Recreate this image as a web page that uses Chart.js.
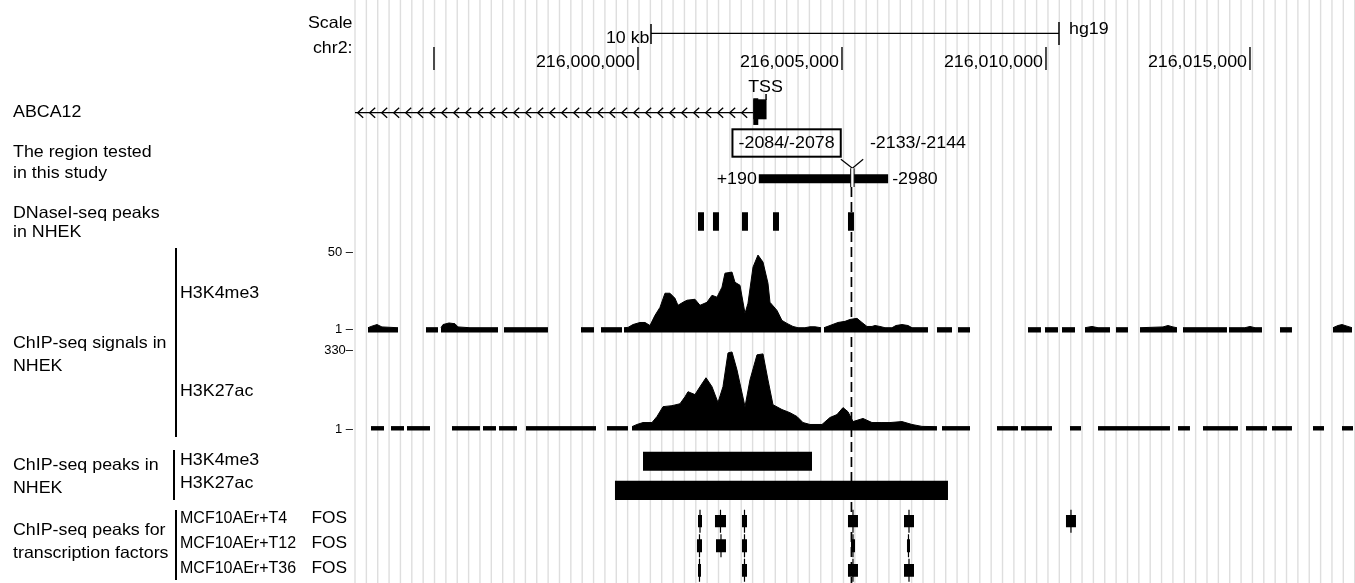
<!DOCTYPE html>
<html>
<head>
<meta charset="utf-8">
<script src="https://cdn.jsdelivr.net/npm/chart.js@4.4.1/dist/chart.umd.min.js"></script>
<style>
  html, body { margin: 0; padding: 0; background: #fff; }
  canvas { display: block; }
</style>
</head>
<body>
<canvas id="browser" width="1355" height="583"></canvas>
<script>
// all positions in kb relative to chr2:216,000,000 (hg19)
const CHR_ZERO = 216000000;
const viewStart = -6.936;
const viewEnd = 17.574;
const xTicks = [-5, 0, 5, 10, 15];
const scaleBarKb = 10;

const tss = 3.151;
const geneStart = -203.734;
const exon1 = [2.826, tss];
const exon1Cds = [2.826, 2.948];
const testedRegion = [tss - 0.190, tss + 2.980];
const siteBox = { label: '-2084/-2078', pos: tss + 2.081 };
const siteY = { label: '-2133/-2144', pos: tss + 2.1385 };

const dnasePeaks = [[1.471, 1.618], [1.838, 1.985], [2.549, 2.696], [3.309, 3.456], [5.147, 5.294]];
const k4Peaks = [[0.123, 4.265]];
const k27Peaks = [[-0.564, 7.598]];
const fosT4 = [[1.471, 1.569], [1.887, 2.157], [2.549, 2.672], [5.147, 5.392], [6.520, 6.765], [10.490, 10.735]];
const fosT12 = [[1.446, 1.569], [1.912, 2.157], [2.549, 2.672], [5.221, 5.319], [6.593, 6.667]];
const fosT36 = [[1.471, 1.544], [2.549, 2.672], [5.147, 5.392], [6.520, 6.765]];

// H3K4me3 signal, segments of [kb, value]
const k4Signal = [
  [[-6.618, 3], [-6.520, 4], [-6.397, 5], [-6.275, 3.5], [-5.882, 3]],
  [[-5.196, 3], [-4.902, 3]],
  [[-4.828, 3], [-4.779, 5], [-4.632, 6], [-4.485, 5.5], [-4.412, 3.5], [-4.118, 3], [-3.431, 3]],
  [[-3.284, 3], [-2.206, 3]],
  [[-1.397, 3], [-1.078, 3]],
  [[-0.907, 3], [-0.392, 3]],
  [[-0.343, 3], [-0.245, 3.2], [-0.123, 5], [0.049, 6.3], [0.172, 6.3], [0.294, 4.4], [0.417, 10.8],
   [0.539, 15.8], [0.662, 24.7], [0.784, 24.7], [0.907, 21.5], [0.980, 17.1], [1.103, 19], [1.201, 20.3],
   [1.397, 20.9], [1.520, 17.1], [1.691, 19], [1.814, 23.4], [1.936, 22.2], [2.059, 28.5], [2.132, 37.3],
   [2.304, 38], [2.377, 31.6], [2.500, 29.7], [2.623, 12], [2.696, 18.4], [2.819, 41.1], [2.941, 48.7],
   [3.064, 44.3], [3.186, 31], [3.235, 19], [3.407, 13.9], [3.529, 7.6], [3.652, 5.7], [3.799, 3.8],
   [3.922, 3], [4.093, 3], [4.216, 3.6], [4.338, 3.6], [4.485, 3]],
  [[4.559, 3], [4.706, 4.4], [4.902, 6.3], [5.074, 7], [5.196, 8.2], [5.368, 8.9], [5.490, 6.3],
   [5.613, 3.8], [5.735, 3.8], [5.809, 4.4], [5.931, 3.8], [6.054, 3], [6.225, 3], [6.324, 4.4],
   [6.471, 5], [6.618, 4.4], [6.716, 3], [7.108, 3]],
  [[7.328, 3], [7.696, 3]],
  [[7.843, 3], [8.137, 3]],
  [[9.559, 3], [9.877, 3]],
  [[9.975, 3], [10.294, 3]],
  [[10.392, 3], [10.711, 3]],
  [[10.956, 3], [11.127, 3.8], [11.275, 3], [11.569, 3]],
  [[11.716, 3], [12.010, 3]],
  [[12.304, 3], [12.868, 3.5], [12.990, 4.4], [13.113, 3.5], [13.211, 3]],
  [[13.358, 3], [14.436, 3]],
  [[14.485, 3], [14.877, 3], [15.000, 3.8], [15.123, 3], [15.294, 3]],
  [[15.735, 3], [16.029, 3]],
  [[17.034, 3], [17.157, 4.4], [17.255, 5], [17.377, 4], [17.500, 3]]
];

// H3K27ac signal, segments of [kb, value]
const k27Signal = [
  [[-6.544, 16], [-6.225, 16]],
  [[-6.054, 16], [-5.735, 16]],
  [[-5.662, 16], [-5.098, 16]],
  [[-4.559, 16], [-3.873, 16]],
  [[-3.799, 16], [-3.480, 16]],
  [[-3.407, 16], [-2.966, 16]],
  [[-2.745, 16], [-1.029, 16]],
  [[-0.760, 16], [-0.245, 16]],
  [[-0.147, 16], [-0.025, 25], [0.123, 33], [0.343, 33], [0.466, 58], [0.613, 99], [0.833, 103],
   [1.029, 111], [1.152, 140], [1.226, 161], [1.397, 149], [1.520, 182], [1.667, 219], [1.814, 182],
   [1.961, 116], [2.083, 182], [2.206, 322], [2.304, 326], [2.426, 252], [2.623, 99], [2.745, 210],
   [2.917, 314], [3.064, 318], [3.186, 210], [3.309, 107], [3.529, 87], [3.725, 74], [3.897, 58],
   [4.044, 33], [4.216, 25], [4.510, 25], [4.706, 54], [4.877, 66], [5.025, 95], [5.147, 78],
   [5.270, 37], [5.515, 50], [5.735, 33], [5.980, 33], [6.176, 33], [6.471, 37], [6.716, 25],
   [6.961, 17], [7.328, 16]],
  [[7.451, 16], [8.137, 16]],
  [[8.799, 16], [9.314, 16]],
  [[9.387, 16], [10.147, 16]],
  [[10.588, 16], [10.858, 16]],
  [[11.275, 16], [13.039, 16]],
  [[13.235, 16], [13.529, 16]],
  [[13.848, 16], [14.706, 16]],
  [[14.902, 16], [15.417, 16]],
  [[15.539, 16], [16.029, 16]],
  [[16.544, 16], [16.814, 16]],
  [[17.255, 16], [17.525, 16]]
];
const k4Ticks = [50, 1];
const k27Ticks = [330, 1];

const FONT = '"Liberation Sans", Arial, Helvetica, sans-serif';
const STRETCH = 1.08;

const leftLabels = [
  ['ABCA12', 13, 117.3],
  ['The region tested', 13, 156.7],
  ['in this study', 13, 178.3],
  ['DNaseI-seq peaks', 13, 218.3],
  ['in NHEK', 13, 236.7],
  ['ChIP-seq signals in', 13, 348],
  ['NHEK', 13, 371],
  ['H3K4me3', 180, 298],
  ['H3K27ac', 180, 396],
  ['ChIP-seq peaks in', 13, 470],
  ['NHEK', 13, 492.7],
  ['H3K4me3', 180, 465],
  ['H3K27ac', 180, 488.3],
  ['ChIP-seq peaks for', 13, 535],
  ['transcription factors', 13, 558.3]
];
const tfLabels = [['MCF10AEr+T4', 523.3], ['MCF10AEr+T12', 548.3], ['MCF10AEr+T36', 573.3]];
const tfFactor = 'FOS';
const brackets = [[176, 248, 437], [174, 450, 500], [176, 510, 580]];

// track layout (pixel rows)
const H = 583;
function trackScale(top, bottom, maxVal) {
  const ppu = (bottom - top) / maxVal;
  return { min: -(H - bottom) / ppu, max: bottom / ppu };
}
const k4Range = trackScale(253, 332.5, 50);
const k27Range = trackScale(351, 430.5, 330);

function bed(items, row) {
  return items.flatMap(([s, e]) => [{ x: s, y: row }, { x: e, y: row }, { x: e, y: null }]);
}
function whiskers(items, row, half) {
  return items.flatMap(([s, e]) => {
    const c = (s + e) / 2;
    return [{ x: c, y: row - half }, { x: c, y: row + half }, { x: c, y: null }];
  });
}
function signal(segs) {
  return segs.flatMap(seg => [...seg.map(([x, y]) => ({ x, y })), { x: seg[seg.length - 1][0], y: null }]);
}
function block(data, width, extra) {
  return Object.assign({ data, yAxisID: 'yRow', borderColor: '#000', borderWidth: width,
    pointRadius: 0, spanGaps: false, fill: false, borderCapStyle: 'butt' }, extra || {});
}

function text(ctx, str, x, y, align, size, stretch) {
  ctx.save();
  ctx.font = (size || 16.5) + 'px ' + FONT;
  ctx.fillStyle = '#000';
  ctx.textAlign = align || 'left';
  ctx.textBaseline = 'alphabetic';
  ctx.translate(x, y);
  ctx.scale(stretch || STRETCH, 1);
  ctx.fillText(str, 0, 0);
  ctx.restore();
}
function line(ctx, x1, y1, x2, y2, w) {
  ctx.beginPath();
  ctx.lineWidth = w || 1;
  ctx.moveTo(x1, y1);
  ctx.lineTo(x2, y2);
  ctx.stroke();
}

const browserDecor = {
  id: 'browserDecor',
  beforeDatasetsDraw(chart) {
    const { ctx, chartArea } = chart;
    ctx.save();
    ctx.strokeStyle = '#dedede';
    for (let k = 0; k <= 88; k++) {
      const x = chartArea.left + k * 11.36;
      line(ctx, x, 0, x, H, 1.4);
    }
    ctx.restore();
  },
  afterDatasetsDraw(chart) {
    const { ctx, chartArea } = chart;
    const xs = chart.scales.x;
    const px = v => xs.getPixelForValue(v);
    ctx.save();
    ctx.strokeStyle = '#000';

    // scale bar, centred in view
    const mid = (viewStart + viewEnd) / 2;
    const b0 = px(mid - scaleBarKb / 2), b1 = px(mid + scaleBarKb / 2);
    line(ctx, b0, 33.3, b1, 33.3, 1.3);
    line(ctx, b0, 24, b0, 44, 1.5);
    line(ctx, b1, 22, b1, 45, 1.5);
    text(ctx, scaleBarKb + ' kb', b0 - 1.5, 43.3, 'right');
    text(ctx, 'hg19', b1 + 10, 33.8, 'left');
    text(ctx, 'Scale', 352.5, 28.3, 'right');
    text(ctx, 'chr2:', 352.5, 53.3, 'right');

    // chromosome ticks
    ctx.save();
    ctx.font = '16.5px ' + FONT;
    xTicks.forEach(t => {
      const x = px(t);
      ctx.strokeStyle = '#222';
      line(ctx, x, 47, x, 70, 1.6);
      const lbl = (CHR_ZERO + t * 1000).toLocaleString('en-US');
      const w = ctx.measureText(lbl).width * STRETCH;
      if (x - 3 - w > chartArea.left) text(ctx, lbl, x - 3, 66.7, 'right');
    });
    ctx.restore();

    // gene strand chevrons
    const geneY = 112.7;
    for (let x = px(exon1[0]) - 11.6; x > chartArea.left; x -= 12) {
      ctx.beginPath();
      ctx.lineWidth = 1.3;
      ctx.moveTo(x + 5.5, geneY - 5);
      ctx.lineTo(x, geneY);
      ctx.lineTo(x + 5.5, geneY + 5);
      ctx.stroke();
    }
    const tp = px(tss);
    line(ctx, tp - 0.5, 94, tp - 0.5, 100, 1.5);
    text(ctx, 'TSS', tp - 1, 91.7, 'center');

    // boxed site label
    const sb = px(siteBox.pos);
    const boxR = sb - 10.7, boxL = boxR - 108.3;
    ctx.lineWidth = 2;
    ctx.strokeRect(boxL, 129.3, boxR - boxL, 27.4);
    text(ctx, siteBox.label, (boxL + boxR) / 2, 148.3, 'center');

    // Y marker for second site
    const sy = px(siteY.pos) - 1.4;
    line(ctx, sy - 11.5, 159.3, sy, 168.3, 1.2);
    line(ctx, sy + 10.8, 159.3, sy, 168.3, 1.2);
    ctx.fillStyle = '#fff';
    ctx.fillRect(sy - 1.7, 168.3, 3.4, 18.7);
    line(ctx, sy - 1.7, 168.3, sy - 1.7, 187, 1);
    line(ctx, sy + 1.7, 168.3, sy + 1.7, 187, 1);
    text(ctx, siteY.label, sy + 17.5, 148.3, 'left');

    // tested region ends
    text(ctx, '+190', px(testedRegion[0]) - 2, 184, 'right');
    text(ctx, '-2980', px(testedRegion[1]) + 4, 184, 'left');

    // signal track ticks
    const k4 = chart.scales.yK4, k27 = chart.scales.yK27;
    k4Ticks.forEach(t => text(ctx, t + ' \u2013', 353, k4.getPixelForValue(t) + 2.5, 'right', 12));
    k27Ticks.forEach((t, i) => text(ctx, t + (i === 0 ? '\u2013' : ' \u2013'), 353, k27.getPixelForValue(t) + 2.5, 'right', 12));

    // left labels and brackets
    leftLabels.forEach(([s, x, y]) => text(ctx, s, x, y, 'left'));
    tfLabels.forEach(([s, y]) => {
      text(ctx, s, 180, y, 'left', 16, 1.0);
      text(ctx, tfFactor, 347, y, 'right', 16.5, 1.05);
    });
    brackets.forEach(([x, y0, y1]) => line(ctx, x, y0, x, y1, 2));
    ctx.restore();
  }
};

new Chart(document.getElementById('browser').getContext('2d'), {
  type: 'line',
  data: {
    datasets: [
      block([{ x: geneStart, y: 112.7 }, { x: exon1[0], y: 112.7 }], 1.2),
      block(bed([exon1], 109.3), 20),
      block(bed([exon1Cds], 111.6), 26.7),
      block(bed([testedRegion], 178.8), 9),
      block(bed(dnasePeaks, 221.5), 18.4),
      { data: signal(k4Signal), yAxisID: 'yK4', borderColor: '#000', backgroundColor: '#000',
        borderWidth: 1, pointRadius: 0, spanGaps: false, fill: { value: 0 } },
      { data: signal(k27Signal), yAxisID: 'yK27', borderColor: '#000', backgroundColor: '#000',
        borderWidth: 1, pointRadius: 0, spanGaps: false, fill: { value: 0 } },
      block(bed(k4Peaks, 461.2), 19),
      block(bed(k27Peaks, 490.3), 19.3),
      block(whiskers(fosT4, 521.2, 11.5), 1.2),
      block(whiskers(fosT12, 545.8, 11.5), 1.2),
      block(whiskers(fosT36, 570.3, 11.5), 1.2),
      block(bed(fosT4, 521.2), 12.3),
      block(bed(fosT12, 545.8), 13),
      block(bed(fosT36, 570.3), 12.7),
      block([{ x: siteBox.pos, y: 187 }, { x: siteBox.pos, y: H }], 1.7, { borderDash: [10, 5] })
    ]
  },
  options: {
    responsive: false,
    animation: false,
    devicePixelRatio: 1,
    layout: { padding: { left: 355, right: 0, top: 0, bottom: 0 } },
    plugins: { legend: { display: false }, tooltip: { enabled: false } },
    elements: { line: { tension: 0 }, point: { radius: 0 } },
    scales: {
      x: { type: 'linear', axis: 'x', min: viewStart, max: viewEnd, display: false },
      yRow: { type: 'linear', axis: 'y', position: 'left', min: 0, max: H, reverse: true, display: false },
      yK4: { type: 'linear', axis: 'y', position: 'left', min: k4Range.min, max: k4Range.max, display: false },
      yK27: { type: 'linear', axis: 'y', position: 'left', min: k27Range.min, max: k27Range.max, display: false }
    }
  },
  plugins: [browserDecor]
});
</script>
</body>
</html>
